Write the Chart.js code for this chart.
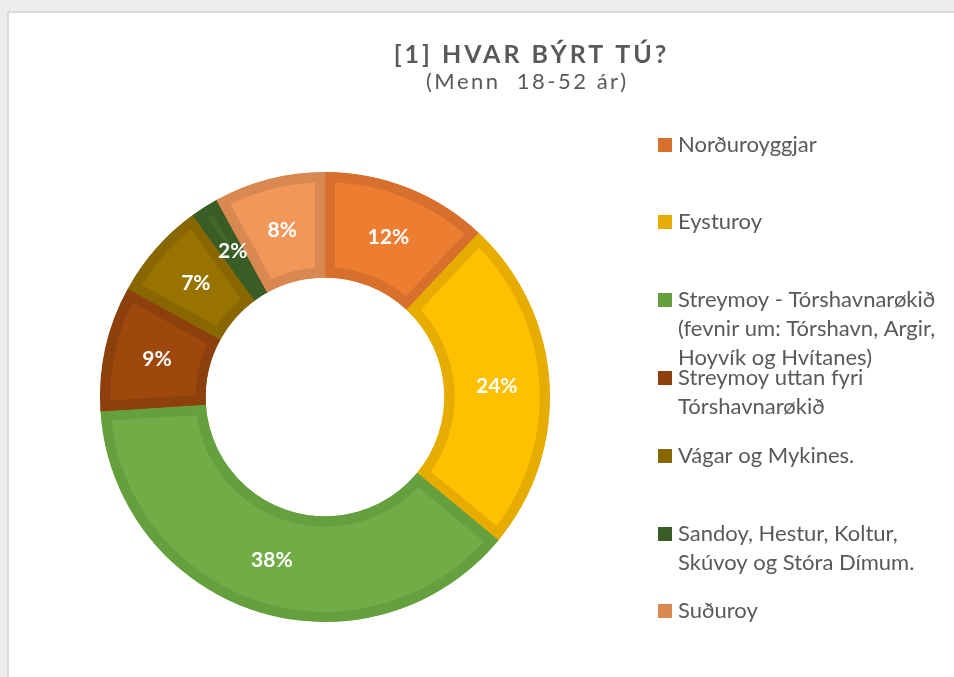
<!DOCTYPE html>
<html>
<head>
<meta charset="utf-8">
<script src="https://cdn.jsdelivr.net/npm/chart.js@4.4.1/dist/chart.umd.min.js"></script>
<style>
  html, body { margin: 0; padding: 0; width: 954px; height: 677px; overflow: hidden; background: #ececec; }
  #panel { position: absolute; left: 7px; top: 11px; width: 1000px; height: 700px; background: #ffffff;
           border-left: 2px solid #d9d9d9; border-top: 2px solid #d9d9d9; }
  #c { position: absolute; left: 0; top: 0; }
</style>
</head>
<body>
<div id="panel"></div>
<canvas id="c" width="954" height="677"></canvas>
<script>
// ---- data ----
const titleText = "[1] HVAR BÝRT TÚ?";
const subtitleText = "(Menn  18-52 ár)";
const categories = [
  "Norðuroyggjar",
  "Eysturoy",
  "Streymoy - Tórshavnarøkið\n(fevnir um: Tórshavn, Argir,\nHoyvík og Hvítanes)",
  "Streymoy uttan fyri\nTórshavnarøkið",
  "Vágar og Mykines.",
  "Sandoy, Hestur, Koltur,\nSkúvoy og Stóra Dímum.",
  "Suðuroy"
];
const values = [12, 24, 38, 9, 7, 2, 8];
const fillColors = ["#ED7D31", "#FFC000", "#70AD47", "#9E480E", "#997300", "#43682B", "#F1975A"];
const borderColors = ["#D6702C", "#E6AC00", "#64A03E", "#8D400C", "#886600", "#3A5C25", "#D98851"];

const FONT = "Lato, 'Open Sans', sans-serif";
const TEXT = "#595959";

function spacedCenter(ctx, text, cx, y, spacing) {
  ctx.letterSpacing = spacing + "px";
  const w = ctx.measureText(text).width - spacing;
  ctx.textAlign = 'left';
  ctx.fillText(text, cx - w / 2, y);
  ctx.letterSpacing = "0px";
}

const overlay = {
  id: 'overlay',
  afterDraw(chart) {
    const ctx = chart.ctx;
    ctx.save();
    // title
    ctx.fillStyle = TEXT;
    ctx.textBaseline = 'alphabetic';
    ctx.font = "bold 25px " + FONT;
    spacedCenter(ctx, titleText, 530, 63, 3);
    ctx.font = "22px " + FONT;
    spacedCenter(ctx, subtitleText, 526, 89, 2.5);

    // percentage labels
    const meta = chart.getDatasetMeta(0);
    ctx.fillStyle = "#ffffff";
    ctx.font = "bold 21px " + FONT;
    ctx.textAlign = 'center';
    ctx.textBaseline = 'middle';
    meta.data.forEach((arc, i) => {
      const p = arc.tooltipPosition();
      ctx.fillText(values[i] + "%", p.x, p.y);
    });

    // legend
    const baselines = [152, 229, 307, 385, 463, 541, 618];
    const lineH = 29;
    ctx.textAlign = 'left';
    ctx.textBaseline = 'alphabetic';
    ctx.font = "22px " + FONT;
    categories.forEach((name, i) => {
      const lines = name.split("\n");
      const b = baselines[i];
      ctx.fillStyle = borderColors[i];
      ctx.fillRect(658, b - 14, 14, 14);
      ctx.fillStyle = TEXT;
      lines.forEach((ln, j) => ctx.fillText(ln, 678, b + j * lineH));
    });
    ctx.restore();
  }
};

new Chart(document.getElementById('c'), {
  type: 'doughnut',
  data: {
    labels: categories,
    datasets: [{
      data: values,
      backgroundColor: fillColors,
      borderColor: borderColors,
      borderWidth: 10,
      borderAlign: 'inner',
      borderJoinStyle: 'miter'
    }]
  },
  options: {
    responsive: false,
    animation: false,
    cutout: '53%',
    layout: { padding: { left: 100, top: 172, right: 404, bottom: 55 } },
    plugins: {
      legend: { display: false },
      title: { display: false },
      tooltip: { enabled: false }
    }
  },
  plugins: [overlay]
});
</script>
</body>
</html>
